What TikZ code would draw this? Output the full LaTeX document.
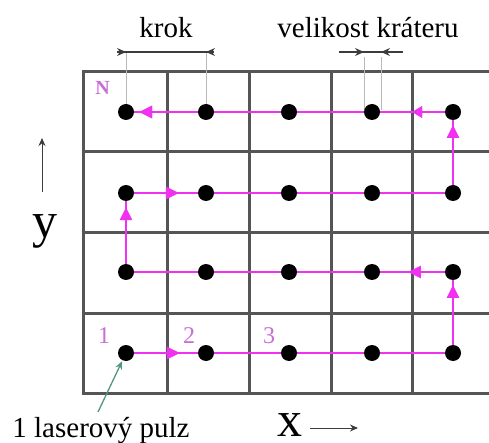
\documentclass[tikz,border=0pt]{standalone}
\usepackage{fontspec}
\setmainfont{Liberation Serif}
\usetikzlibrary{arrows.meta,decorations.markings,backgrounds}
\definecolor{gridgray}{RGB}{85,85,85}
\definecolor{mag}{RGB}{240,50,240}
\definecolor{labmag}{RGB}{200,110,215}
\definecolor{extgray}{RGB}{185,185,185}
\definecolor{dimgray}{RGB}{60,60,60}
\definecolor{pulsegreen}{RGB}{80,150,125}
\tikzset{
  gridline/.style={draw=gridgray, line width=3pt},
  dot/.style={circle, fill=black, inner sep=0pt, minimum size=16pt},
  magpath/.style={draw=mag, color=mag, line width=2.6pt},
  tipat/.style={postaction={decorate}, decoration={markings,
     mark=at position #1 with {\arrow{Triangle[length=13pt,width=12pt]}}}},
  smalltipat/.style={postaction={decorate}, decoration={markings,
     mark=at position #1 with {\arrow{Triangle[length=10pt,width=11pt]}}}},
  maglabel/.style={text=labmag, anchor=base, inner sep=0pt},
  bigtext/.style={font=\fontsize{29}{32}\selectfont, anchor=base, inner sep=0pt},
  axistext/.style={font=\fontsize{50}{54}\selectfont, anchor=base, inner sep=0pt},
  axisarrow/.style={draw=dimgray, line width=1pt, -{Stealth[length=8pt,width=7pt]}},
  dimline/.style={draw=dimgray, line width=1.1pt},
  dimtip/.style={draw=dimgray, line width=1.1pt, -{Stealth[length=9pt,width=8pt,inset=3pt]}},
  extline/.style={draw=extgray, line width=0.8pt},
  pulsearrow/.style={draw=pulsegreen, line width=1.3pt, -{Stealth[length=8pt,width=7pt]}, shorten >=1pt}
}
\begin{document}
\begin{tikzpicture}[x=1pt,y=-1pt]
\useasboundingbox (0,0) rectangle (489,443);
% dots
\foreach \i/\x in {1/126,2/206,3/289,4/372,5/453}
  \foreach \j/\y in {1/353,2/272,3/193,4/112}
    \node[dot] (d\i\j) at (\x,\y) {};
\begin{scope}[on background layer]
  % grid
  \foreach \x in {83,167,249,331,412}
    \draw[gridline] (\x,72) -- (\x,393);
  \foreach \y in {72,152,233,313,393}
    \draw[gridline] (81.5,\y) -- (489,\y);
  % extension lines
  \coordinate (ke1) at (126,52);
  \coordinate (ke2) at (206,52);
  \coordinate (ce1) at (364,57);
  \coordinate (ce2) at (381,57);
  \coordinate (cb1) at (364,110);
  \coordinate (cb2) at (381,110);
  \draw[extline] (ke1) -- (d14.center);
  \draw[extline] (ke2) -- (d24.center);
  \draw[extline] (ce1) -- (cb1);
  \draw[extline] (ce2) -- (cb2);
  % laser path
  \draw[magpath, tipat=0.165] (d11.center) -- (d51.center);
  \draw[magpath, tipat=0.84] (d51.center) -- (d52.center);
  \draw[magpath, tipat=0.138] (d52.center) -- (d12.center);
  \draw[magpath, tipat=0.82] (d12.center) -- (d13.center);
  \draw[magpath, tipat=0.162] (d13.center) -- (d53.center);
  \draw[magpath, tipat=0.84] (d53.center) -- (d54.center);
  \draw[magpath, smalltipat=0.125, tipat=0.96] (d54.center) -- (d14.center);
\end{scope}
% dimension: krok
\coordinate (k1) at (117,52);
\coordinate (k2) at (214,52);
\draw[dimline] (k1) -- (k2);
\draw[dimtip] (k1) -- (ke1);
\draw[dimtip] (k2) -- (ke2);
\node[bigtext] (krok) at (166,38) {krok};
% dimension: crater size
\coordinate (c1) at (339,52);
\coordinate (c2) at (403,52);
\coordinate (cm1) at (364,52);
\coordinate (cm2) at (381,52);
\draw[dimline] (c1) -- (c2);
\draw[dimtip] (c1) -- (cm1);
\draw[dimtip] (c2) -- (cm2);
\node[bigtext] (vel) at (368,38) {velikost kráteru};
% magenta labels
\node[maglabel, font=\fontsize{20}{22}\selectfont\bfseries] (lN) at (102.5,95) {N};
\node[maglabel, font=\fontsize{24}{26}\selectfont] (l1) at (104,343) {1};
\node[maglabel, font=\fontsize{24}{26}\selectfont] (l2) at (189,343) {2};
\node[maglabel, font=\fontsize{24}{26}\selectfont] (l3) at (269,343) {3};
% laser pulse label
\node[bigtext] (pulz) at (101,437) {1 laserový pulz};
\coordinate (ps) at (98,412);
\draw[pulsearrow] (ps) -- (d11);
% axes
\node[axistext] (ylab) at (45,238) {y};
\coordinate (yb) at (42,192);
\coordinate (yt) at (42,138);
\draw[axisarrow] (yb) -- (yt);
\node[axistext] (xlab) at (290,436) {x};
\coordinate (xa) at (310,428);
\coordinate (xb) at (358,428);
\draw[axisarrow] (xa) -- (xb);
\end{tikzpicture}
\end{document}
